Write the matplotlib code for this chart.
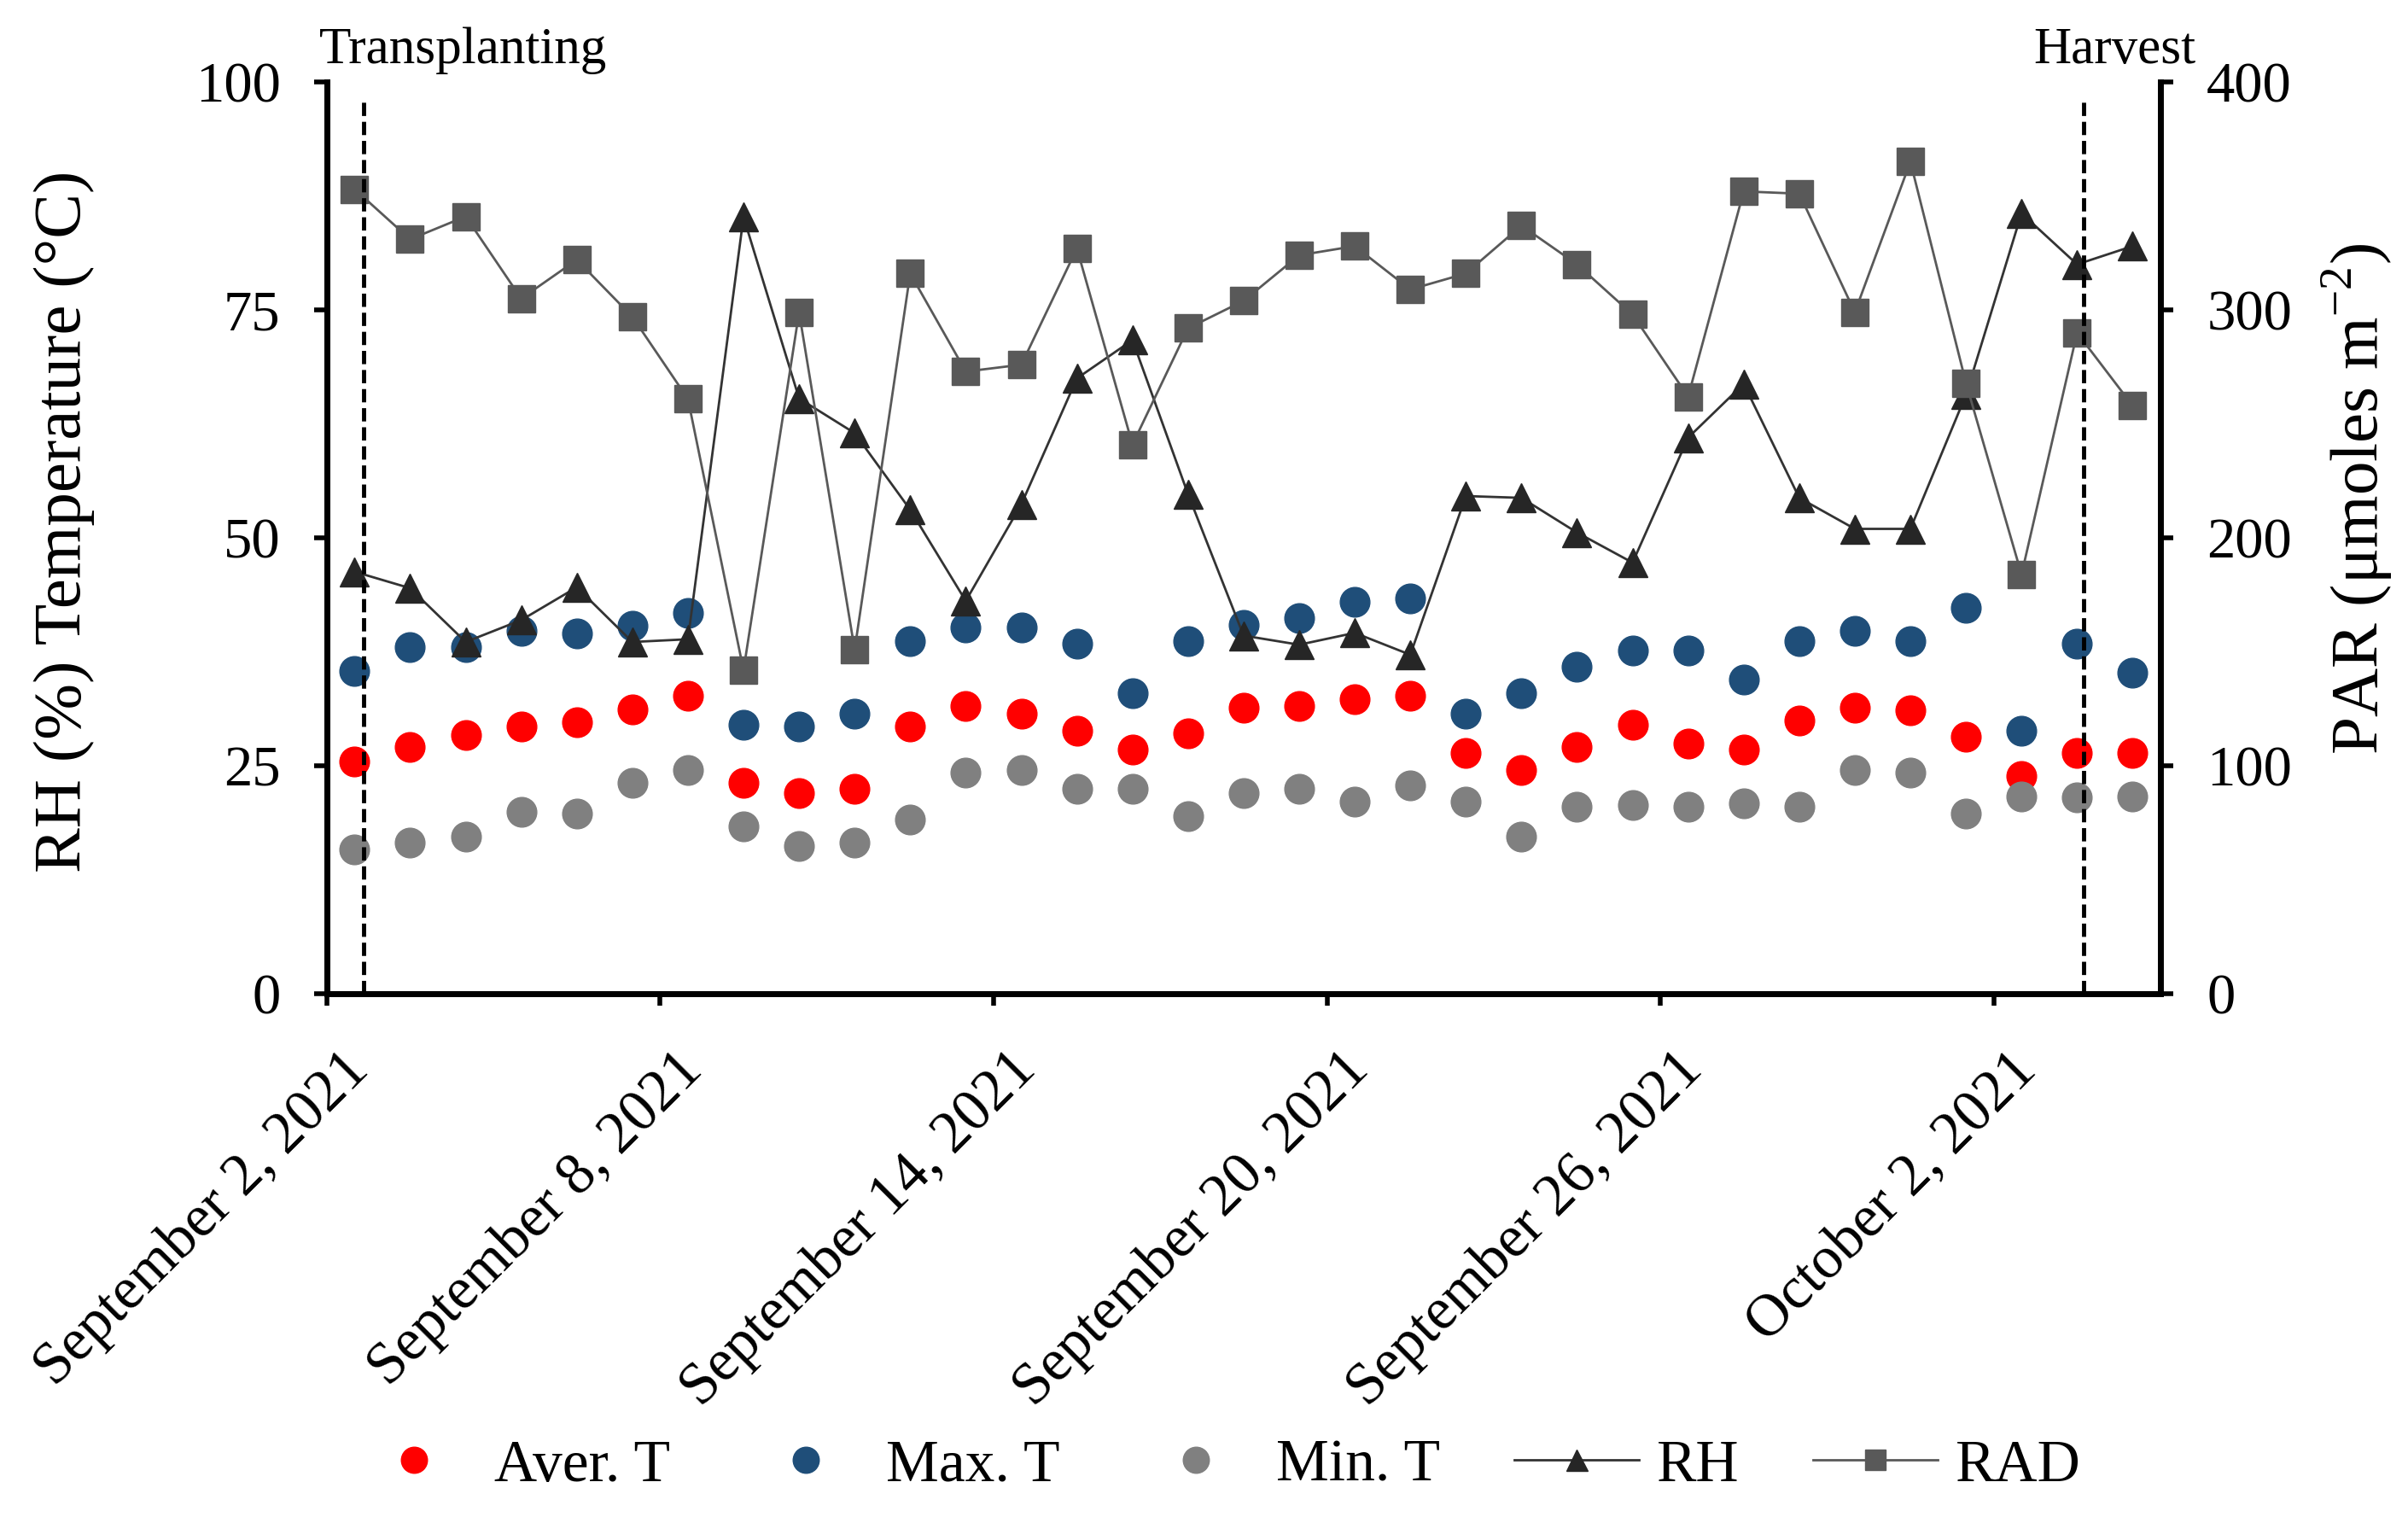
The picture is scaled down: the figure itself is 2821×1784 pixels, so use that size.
import pandas as pd
import matplotlib
matplotlib.use("Agg")
import matplotlib.pyplot as plt
from matplotlib.lines import Line2D
from matplotlib.ticker import FuncFormatter
from matplotlib.transforms import ScaledTranslation

plt.rcParams["font.family"] = ["Liberation Serif", "DejaVu Serif"]
plt.rcParams["mathtext.fontset"] = "custom"
plt.rcParams["mathtext.rm"] = "Liberation Serif"

# daily values, Sep 2 - Oct 4 2021
days = pd.date_range("2021-09-02", "2021-10-04", freq="D")
aver_t = [25.5, 27.1, 28.4, 29.3, 29.8, 31.2, 32.7, 23.2, 22.0, 22.5, 29.3,
          31.6, 30.7, 28.9, 26.8, 28.6, 31.4, 31.6, 32.3, 32.7, 26.4, 24.6,
          27.1, 29.5, 27.5, 26.8, 30.0, 31.4, 31.1, 28.2, 23.9, 26.4, 26.4]
max_t = [35.4, 38.0, 38.0, 39.8, 39.5, 40.4, 41.8, 29.5, 29.3, 30.7, 38.7,
         40.2, 40.2, 38.4, 33.0, 38.7, 40.5, 41.2, 43.0, 43.4, 30.7, 33.0,
         35.9, 37.7, 37.7, 34.5, 38.7, 39.8, 38.7, 42.3, 28.9, 38.4, 35.2]
min_t = [15.9, 16.6, 17.3, 20.0, 19.8, 23.2, 24.6, 18.4, 16.2, 16.6, 19.1,
         24.3, 24.6, 22.5, 22.5, 19.5, 22.0, 22.5, 21.1, 22.9, 21.1, 17.3,
         20.5, 20.7, 20.5, 20.9, 20.5, 24.6, 24.3, 19.8, 21.7, 21.6, 21.7]
rh = [46.3, 44.5, 38.6, 41.0, 44.6, 38.6, 38.9, 85.2, 65.3, 61.5, 53.1,
      43.1, 53.7, 67.5, 71.7, 54.8, 39.3, 38.3, 39.6, 37.2, 54.6, 54.4,
      50.6, 47.3, 61.0, 66.9, 54.4, 51.0, 51.0, 65.7, 85.6, 80.0, 82.0]
rad = [353, 331, 341, 305, 322, 297, 261, 142, 299, 151, 316,
       273, 276, 327, 241, 292, 304, 324, 328, 309, 316, 337,
       320, 298, 262, 352, 351, 299, 365, 268, 184, 290, 258]

tick_days = ["2021-09-02", "2021-09-08", "2021-09-14", "2021-09-20",
             "2021-09-26", "2021-10-02"]
transplanting = "2021-09-02 16:00"
harvest = "2021-10-03 15:00"

fig = plt.figure(figsize=(28.21, 17.84), dpi=100)
ax = fig.add_axes([0.1357, 0.3473, 0.7615, 0.5989])
ax2 = ax.twinx()

x = days + pd.Timedelta(hours=12)
ms = 25
ax.plot(x, aver_t, "o", ls="none", color="#ff0000", ms=ms, label="Aver. T")
ax.plot(x, max_t, "o", ls="none", color="#1f4e79", ms=ms, label="Max. T")
ax.plot(x, min_t, "o", ls="none", color="#808080", ms=ms, label="Min. T")
ax.plot(x, rh, "-^", color="#333333", mfc="#262626", mec="#262626", lw=2,
        ms=24, label="RH")
ax2.plot(x, rad, "-s", color="#595959", lw=2, ms=23, label="RAD")

for d in (transplanting, harvest):
    ax2.axvline(pd.Timestamp(d), ymax=0.98, color="black", ls=(0, (3.2, 1.4)),
                lw=3.5, zorder=10)

ax.set_xlim(pd.Timestamp("2021-09-02"), pd.Timestamp("2021-10-05"))
ax.set_ylim(0, 100)
ax2.set_ylim(0, 400)
ax.set_yticks([0, 25, 50, 75, 100])
ax2.set_yticks([0, 100, 200, 300, 400])
ax.set_xticks(pd.to_datetime(tick_days))
ax.xaxis.set_major_formatter(FuncFormatter(
    lambda v, p: (lambda d: f"{d:%B} {d.day}, {d.year}")(
        matplotlib.dates.num2date(v))))

for a in (ax, ax2):
    for s in a.spines.values():
        s.set_linewidth(5)
    a.spines["top"].set_visible(False)
ax.spines["right"].set_visible(False)

ax.tick_params(axis="y", direction="out", length=11, width=4, labelsize=48, pad=28)
ax2.tick_params(axis="y", direction="out", length=11, width=4, labelsize=48, pad=28)
ax.tick_params(axis="x", direction="out", length=10, width=4, labelsize=50, pad=14)
shift = ScaledTranslation(0.17, -0.23, fig.dpi_scale_trans)
for lbl in ax.get_xticklabels():
    lbl.set_rotation(45)
    lbl.set_ha("right")
    lbl.set_va("top")
    lbl.set_rotation_mode("anchor")
    lbl.set_transform(lbl.get_transform() + shift)

ax.set_ylabel("RH (%) Temperature (°C)", fontsize=57)
ax.yaxis.set_label_coords(-0.1265, 0.518)
ax2.set_ylabel(r"PAR (μmoles m$^{\mathrm{-2}}$)", fontsize=57)
ax2.yaxis.set_label_coords(1.087, 0.543)

fig.text(0.1327, 0.967, "Transplanting", fontsize=44, ha="left", va="center")
fig.text(0.912, 0.967, "Harvest", fontsize=44, ha="right", va="center")

handles = [
    Line2D([], [], marker="o", ls="none", color="#ff0000", ms=22),
    Line2D([], [], marker="o", ls="none", color="#1f4e79", ms=22),
    Line2D([], [], marker="o", ls="none", color="#808080", ms=22),
    Line2D([], [], marker="^", color="#333333", mfc="#262626", mec="#262626", lw=2, ms=18),
    Line2D([], [], marker="s", color="#595959", lw=2, ms=17),
]
fig.legend(handles, ["Aver. T", "Max. T", "Min. T", "RH", "RAD"],
           loc="center", bbox_to_anchor=(0.505, 0.037), ncol=5, frameon=False,
           fontsize=50, handlelength=2.1, handletextpad=0.3,
           columnspacing=1.25, numpoints=1)

fig.savefig("out.png", dpi=100)
